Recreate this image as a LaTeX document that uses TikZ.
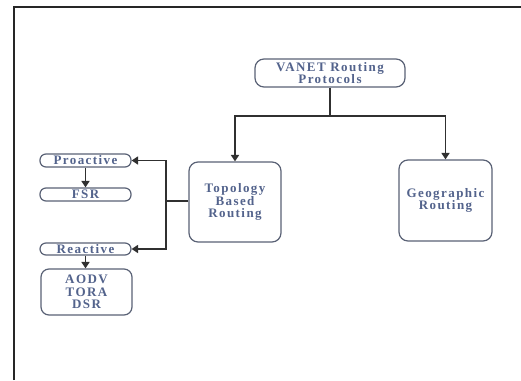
\documentclass[tikz,border=0pt]{standalone}
\usepackage{fontspec}
\setmainfont{Liberation Serif}[LetterSpace=11]
\usetikzlibrary{arrows.meta}
\definecolor{txt}{HTML}{53638C}
\definecolor{boxc}{HTML}{5A6276}
\definecolor{linec}{HTML}{303030}
\tikzset{
  x=1pt, y=-1pt,
  box/.style={draw=boxc, line width=1.2pt, fill=white, text=txt, align=center,
    inner sep=0pt, font=\fontsize{13}{12.5}\selectfont\bfseries},
  pill/.style={box, rounded corners=6pt},
  conn/.style={draw=linec, line width=1.6pt},
  arr/.style={conn, -{Triangle[length=6.5pt,width=8pt]}}
}
\begin{document}
\begin{tikzpicture}
\useasboundingbox (0,0) rectangle (521,380);
\fill[white] (0,0) rectangle (521,380);
\draw[line width=2pt, black!85] (14,380) -- (14,7) -- (521,7);

\node[box, rounded corners=9pt, minimum width=150pt, minimum height=28pt] (vanet) at (330,73) {VANET Routing\\Protocols};
\node[box, rounded corners=9pt, minimum width=92pt, minimum height=80pt] (topo) at (235,202) {Topology\\Based\\Routing};
\node[box, rounded corners=9pt, minimum width=93pt, minimum height=81pt] (geo) at (445.5,200.5) {Geographic\\Routing};
\node[pill, minimum width=91pt, minimum height=13pt] (pro) at (85.5,160.5) {Proactive};
\node[pill, minimum width=91pt, minimum height=13pt] (fsr) at (85.5,194.5) {FSR};
\node[pill, minimum width=91pt, minimum height=12pt] (rea) at (85.5,249) {Reactive};
\node[box, rounded corners=8pt, minimum width=91pt, minimum height=46pt] (aodv) at (86.5,292) {AODV\\TORA\\DSR};

\coordinate (split) at (330,116);
\coordinate (bus) at (166,201);

\draw[conn] (vanet.south) -- (split);
\draw[arr] (split) -| (topo.north);
\draw[arr] (split) -| (geo.north);
\draw[conn] (topo.west |- bus) -- (bus);
\draw[arr] (bus) |- (pro.east);
\draw[arr] (bus) |- (rea.east);
\draw[arr] (pro.south) -- (fsr.north);
\draw[arr] (rea.south) -- (rea.south |- aodv.north);
\end{tikzpicture}
\end{document}
